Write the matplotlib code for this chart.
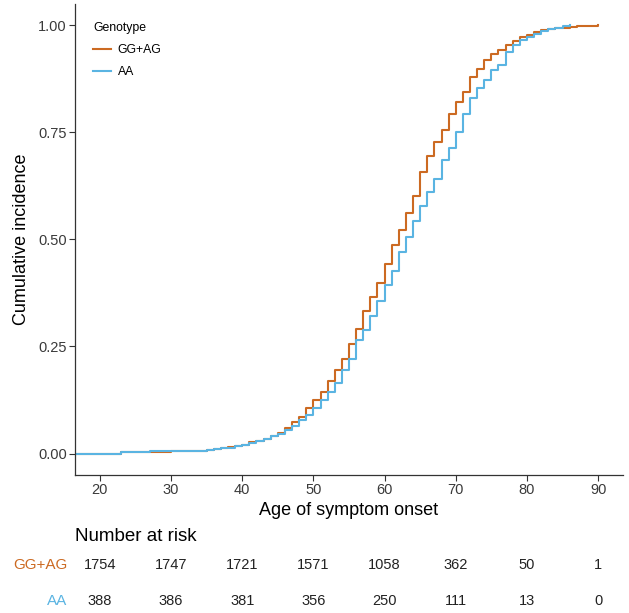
import numpy as np
import matplotlib
matplotlib.use("Agg")
import matplotlib.pyplot as plt
from matplotlib.transforms import blended_transform_factory

plt.rcParams['font.family'] = ['Liberation Sans', 'DejaVu Sans']

# cumulative incidence, GG+AG genotype (step values from the reference)
age_gg = [0, 23, 26, 30, 33, 35, 36, 37, 38, 39, 40, 41, 42, 43, 44, 45, 46, 47, 48, 49,
          50, 51, 52, 53, 54, 55, 56, 57, 58, 59, 60, 61, 62, 63, 64, 65, 66, 67, 68, 69,
          70, 71, 72, 73, 74, 75, 76, 77, 78, 79, 80, 81, 82, 83, 84, 85, 86, 87, 88, 90]
inc_gg = [0, 0.003, 0.004, 0.005, 0.007, 0.008, 0.010, 0.012, 0.015, 0.018, 0.021, 0.026,
          0.030, 0.035, 0.041, 0.048, 0.060, 0.073, 0.086, 0.106, 0.124, 0.143, 0.169, 0.196,
          0.221, 0.256, 0.291, 0.332, 0.366, 0.397, 0.442, 0.486, 0.521, 0.561, 0.601, 0.656,
          0.694, 0.727, 0.756, 0.792, 0.821, 0.844, 0.878, 0.897, 0.919, 0.932, 0.942, 0.953,
          0.963, 0.971, 0.977, 0.984, 0.988, 0.990, 0.992, 0.994, 0.996, 0.997, 0.998, 1.000]

# cumulative incidence, AA genotype
age_aa = [0, 23, 27, 30, 33, 35, 36, 37, 38, 39, 40, 41, 42, 43, 44, 45, 46, 47, 48, 49,
          50, 51, 52, 53, 54, 55, 56, 57, 58, 59, 60, 61, 62, 63, 64, 65, 66, 67, 68, 69,
          70, 71, 72, 73, 74, 75, 76, 77, 78, 79, 80, 81, 82, 83, 84, 85, 86]
inc_aa = [0, 0.003, 0.005, 0.005, 0.006, 0.008, 0.010, 0.012, 0.014, 0.017, 0.020, 0.024,
          0.029, 0.034, 0.040, 0.046, 0.056, 0.065, 0.079, 0.089, 0.107, 0.125, 0.143, 0.165,
          0.194, 0.221, 0.266, 0.289, 0.322, 0.357, 0.394, 0.426, 0.470, 0.505, 0.543, 0.577,
          0.611, 0.640, 0.686, 0.712, 0.751, 0.792, 0.829, 0.852, 0.871, 0.895, 0.907, 0.938,
          0.953, 0.965, 0.973, 0.980, 0.985, 0.990, 0.993, 0.997, 1.000]

# number at risk table
risk_ages = [20, 30, 40, 50, 60, 70, 80, 90]
risk_gg = [1754, 1747, 1721, 1571, 1058, 362, 50, 1]
risk_aa = [388, 386, 381, 356, 250, 111, 13, 0]

col_gg = "#CC6A22"
col_aa = "#5AB4E2"

fig = plt.figure(figsize=(6.29, 6.13), dpi=100)
ax = fig.add_axes([0.1192, 0.2251, 0.8713, 0.769])

ax.step(age_gg, inc_gg, where='post', color=col_gg, lw=1.5, label="GG+AG")
ax.step(age_aa, inc_aa, where='post', color=col_aa, lw=1.5, label="AA")

ax.set_xlim(16.5, 93.5)
ax.set_ylim(-0.05, 1.05)
ax.set_xticks(risk_ages)
ax.set_yticks([0, 0.25, 0.5, 0.75, 1.0])
ax.set_yticklabels(["0.00", "0.25", "0.50", "0.75", "1.00"])
for s in ["top", "right"]:
    ax.spines[s].set_visible(False)
for s in ["left", "bottom"]:
    ax.spines[s].set_color("#333333")
    ax.spines[s].set_linewidth(0.9)
ax.tick_params(length=4, width=0.8, color="#333333", labelcolor="#3a3a3a",
               labelsize=10.5, pad=2)
ax.set_xlabel("Age of symptom onset", fontsize=13, color="black", labelpad=3)
ax.set_ylabel("Cumulative incidence", fontsize=13, color="black", labelpad=6)

leg = ax.legend(title="Genotype", loc="upper left", bbox_to_anchor=(0.022, 0.975),
                frameon=False, fontsize=8.8, title_fontsize=8.8, handlelength=1.45,
                handletextpad=0.55, labelspacing=0.85, alignment="left", borderpad=0)

# risk table below the plot
tr = blended_transform_factory(ax.transData, fig.transFigure)
fig.text(0.1192, 0.124, "Number at risk", fontsize=13.5, va="center", ha="left")
for a, g, r in zip(risk_ages, risk_gg, risk_aa):
    ax.text(a, 0.078, str(g), transform=tr, ha="center", va="center", fontsize=10.5,
            color="#222222", clip_on=False)
    ax.text(a, 0.020, str(r), transform=tr, ha="center", va="center", fontsize=10.5,
            color="#222222", clip_on=False)
fig.text(0.107, 0.078, "GG+AG", fontsize=11, color=col_gg, ha="right", va="center")
fig.text(0.107, 0.020, "AA", fontsize=11, color=col_aa, ha="right", va="center")

fig.savefig("out.png", dpi=100)
